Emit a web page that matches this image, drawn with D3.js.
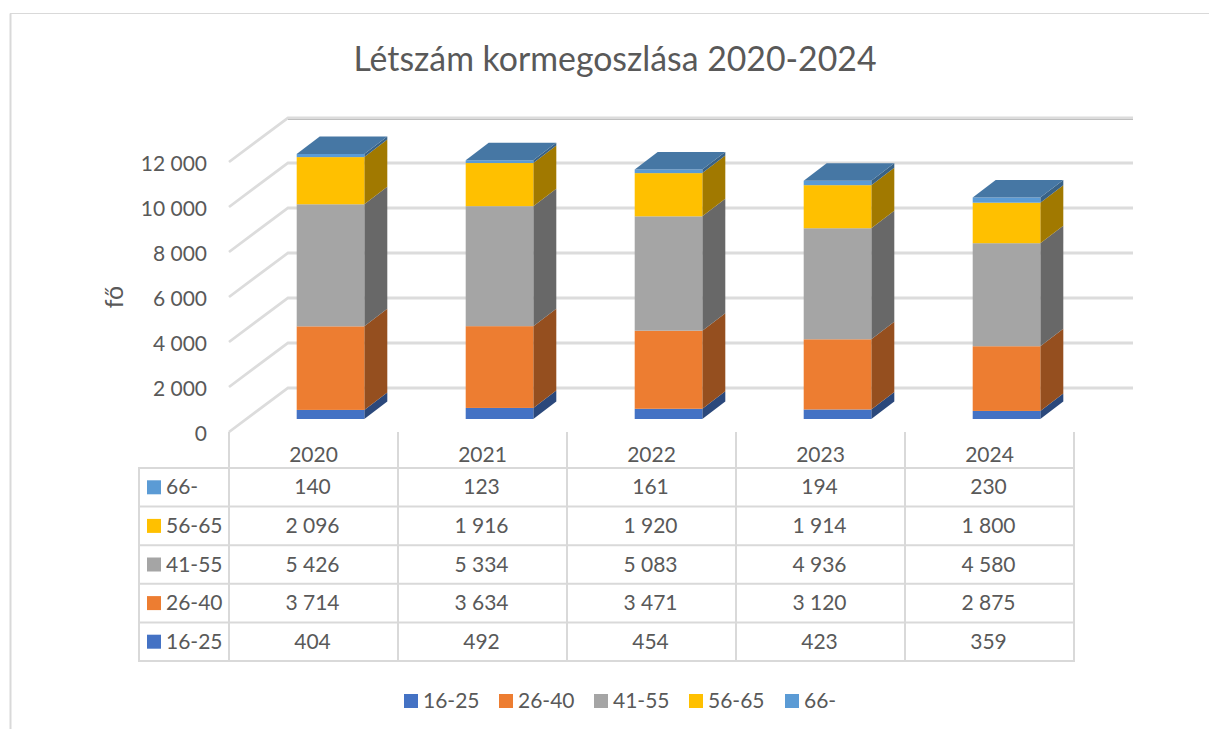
<!DOCTYPE html>
<html>
<head>
<meta charset="utf-8">
<script src="https://cdn.jsdelivr.net/npm/d3@7"></script>
<style>
  body { margin: 0; background: #fff; }
  text { font-family: Lato, sans-serif; fill: #595959; }
</style>
</head>
<body>
<svg width="1209" height="729"></svg>
<script>
const years = ["2020", "2021", "2022", "2023", "2024"];
const groups = ["16-25", "26-40", "41-55", "56-65", "66-"];
const colors = ["#4472c4", "#ed7d31", "#a5a5a5", "#ffc000", "#5b9bd5"];
const v1625 = [404, 492, 454, 423, 359];
const v2640 = [3714, 3634, 3471, 3120, 2875];
const v4155 = [5426, 5334, 5083, 4936, 4580];
const v5665 = [2096, 1916, 1920, 1914, 1800];
const v66 = [140, 123, 161, 194, 230];
const yTicks = [0, 2000, 4000, 6000, 8000, 10000, 12000];
const values = [v1625, v2640, v4155, v5665, v66];

const svg = d3.select("svg");
const fmt = d3.formatLocale({ decimal: ",", thousands: " ", grouping: [3], currency: ["", ""] }).format(",d");

// chart frame
const frame = "#d9d9d9";
svg.append("path").attr("d", "M10.5,729V13.5").attr("fill", "none").attr("stroke", frame).attr("stroke-width", 2);
svg.append("path").attr("d", "M10,13.5H1209").attr("fill", "none").attr("stroke", frame).attr("stroke-width", 1);

// title
svg.append("text").attr("x", 615).attr("y", 71).attr("text-anchor", "middle")
  .style("font-size", "33.8px").text("Létszám kormegoszlása 2020-2024");

// scales
const x = d3.scaleBand().domain(years).range([229, 1074]).paddingInner(0.6).paddingOuter(0.3);
const col = d3.scaleBand().domain(years).range([229, 1074]);
const y = d3.scaleLinear().domain([0, 12000]).range([432, 162]);
const depthX = 59, depthY = -44;     // floor depth
const barDX = 17, barDY = -13;       // bar sits inside the floor
const barX = 23, barY = -17.5;       // bar depth

// walls
const grid = svg.append("g");
yTicks.forEach(t => {
  grid.append("path")
    .attr("d", `M229,${y(t)}L${229 + depthX},${y(t) + depthY}H1133`)
    .attr("fill", "none").attr("stroke", "#dcdcdc").attr("stroke-width", 2.8);
});
// top edge of the back wall is a bit darker
grid.append("line").attr("x1", 288).attr("x2", 1133)
  .attr("y1", y(12000) + depthY + 1.5).attr("y2", y(12000) + depthY + 1.5)
  .attr("stroke", "#bfbfbf").attr("stroke-width", 1);

// y axis labels
const yAxis = svg.append("g").attr("transform", "translate(229,2)")
  .call(d3.axisLeft(y).tickValues(yTicks).tickSize(0).tickPadding(22).tickFormat(fmt));
yAxis.select(".domain").remove();
yAxis.selectAll("text").style("font-size", "21px");

svg.append("text").attr("transform", "translate(123,297) rotate(-90)").attr("text-anchor", "middle")
  .style("font-size", "25px").text("fő");

// stacked 3d bars
const table = years.map((yr, i) => {
  const row = { year: yr };
  groups.forEach((g, k) => row[g] = values[k][i]);
  return row;
});
const series = d3.stack().keys(groups)(table);

const dark = (c, f) => {
  const r = d3.rgb(c);
  return d3.rgb(r.r * f, r.g * f, r.b * f).formatHex();
};

const barG = svg.append("g").attr("transform", `translate(${barDX},${barDY})`);
series.forEach((s, k) => {
  const g = barG.append("g");
  g.selectAll("path.side").data(s).join("path").attr("class", "side")
    .attr("fill", dark(colors[k], 0.63))
    .attr("d", d => {
      const x1 = x(d.data.year) + x.bandwidth();
      return `M${x1},${y(d[0])}L${x1 + barX},${y(d[0]) + barY}V${y(d[1]) + barY}L${x1},${y(d[1])}Z`;
    });
  g.selectAll("rect").data(s).join("rect")
    .attr("x", d => x(d.data.year)).attr("width", x.bandwidth())
    .attr("y", d => y(d[1])).attr("height", d => y(d[0]) - y(d[1]))
    .attr("fill", colors[k]);
  if (k === groups.length - 1) {
    g.selectAll("path.top").data(s).join("path").attr("class", "top")
      .attr("fill", dark(colors[k], 0.77))
      .attr("d", d => {
        const x0 = x(d.data.year), x1 = x0 + x.bandwidth(), t = y(d[1]);
        return `M${x0},${t}L${x0 + barX},${t + barY}H${x1 + barX}L${x1},${t}Z`;
      });
  }
});

// data table
const rowOrder = groups.slice().reverse();
const rowY = d3.scaleBand().domain(rowOrder).range([468, 661]);
const tg = svg.append("g").attr("stroke", "#d9d9d9").attr("stroke-width", 2).attr("fill", "none");
col.domain().forEach(yr => {
  tg.append("line").attr("x1", col(yr)).attr("x2", col(yr)).attr("y1", 432).attr("y2", 661);
});
tg.append("line").attr("x1", 1074).attr("x2", 1074).attr("y1", 432).attr("y2", 661);
tg.append("line").attr("x1", 139).attr("x2", 139).attr("y1", 468).attr("y2", 661);
rowOrder.forEach(g => {
  tg.append("line").attr("x1", 138).attr("x2", 1075).attr("y1", rowY(g)).attr("y2", rowY(g));
});
tg.append("line").attr("x1", 138).attr("x2", 1075).attr("y1", 661).attr("y2", 661);

svg.append("g").selectAll("text").data(years).join("text")
  .attr("x", d => col(d) + col.bandwidth() / 2).attr("y", 462).attr("text-anchor", "middle")
  .style("font-size", "21px").text(d => d);

rowOrder.forEach(g => {
  const k = groups.indexOf(g);
  const cy = rowY(g) + rowY.bandwidth() / 2;
  svg.append("rect").attr("x", 147).attr("y", cy - 7).attr("width", 14).attr("height", 14).attr("fill", colors[k]);
  svg.append("text").attr("x", 166).attr("y", cy + 7).style("font-size", "21px").text(g);
  svg.append("g").selectAll("text").data(values[k]).join("text")
    .attr("x", (d, i) => col(years[i]) + col.bandwidth() / 2 - 1).attr("y", cy + 7).attr("text-anchor", "middle")
    .style("font-size", "21px").text(d => fmt(d));
});

// legend
const legX = d3.scaleOrdinal().domain(groups).range([404, 499, 594, 689, 785]);
groups.forEach((g, k) => {
  svg.append("rect").attr("x", legX(g)).attr("y", 694).attr("width", 14).attr("height", 14).attr("fill", colors[k]);
  svg.append("text").attr("x", legX(g) + 19).attr("y", 708).style("font-size", "21px").text(g);
});
</script>
</body>
</html>
